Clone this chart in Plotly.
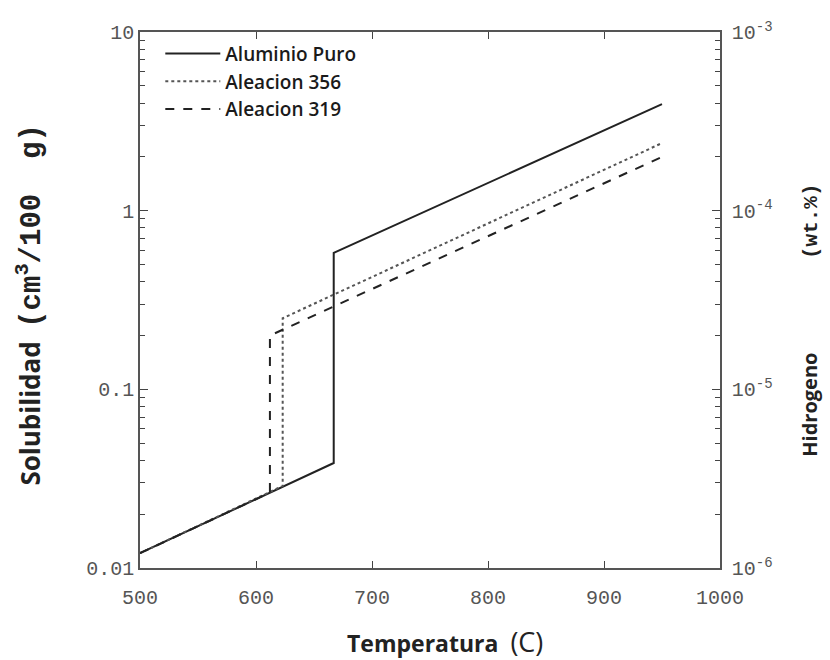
import plotly.graph_objects as go

# Data (temperature in C, solubility in cm3/100 g)
temp_puro = [500, 667, 667, 950]
sol_puro = [0.0121, 0.0387, 0.58, 3.95]

temp_356 = [500, 623, 623, 950]
sol_356 = [0.0121, 0.0288, 0.25, 2.39]

temp_319 = [500, 612, 612, 950]
sol_319 = [0.0121, 0.0264, 0.20, 2.0]

x_ticks = [500, 600, 700, 800, 900, 1000]
y2_tickvals = [1e-6, 1e-5, 1e-4, 1e-3]
y2_ticktext = ["10<sup>-6</sup>", "10<sup>-5</sup>", "10<sup>-4</sup>", "10<sup>-3</sup>"]

TICKFONT = dict(family="Liberation Mono", size=20, color="#555555")
SP = "\u00a0"

fig = go.Figure()
fig.add_trace(go.Scatter(x=temp_puro, y=sol_puro, mode="lines", name="Aluminio Puro",
                         line=dict(color="#222222", width=2, dash="solid")))
fig.add_trace(go.Scatter(x=temp_356, y=sol_356, mode="lines", name="Aleacion 356",
                         line=dict(color="#555555", width=2, dash="dot")))
fig.add_trace(go.Scatter(x=temp_319, y=sol_319, mode="lines", name="Aleacion 319",
                         line=dict(color="#222222", width=2, dash="dash")))
# invisible helper trace to anchor the right-hand hydrogen axis
fig.add_trace(go.Scatter(x=temp_puro, y=[v * 1e-4 for v in sol_puro], yaxis="y2",
                         mode="lines", line=dict(width=0, color="rgba(0,0,0,0)"),
                         showlegend=False, hoverinfo="skip"))

left_title = ("<b>Solubilidad</b>" + SP * 2 +
              "<span style='font-family:Liberation Mono;font-size:29px;font-weight:bold'>"
              "(cm<sup>3</sup>/100" + SP * 2 + "g)</span>")
right_title = ("<b>Hidrogeno</b>" + SP * 18 +
               "<span style='font-family:Liberation Mono;font-size:21px;font-weight:bold'>(wt.%)</span>")
x_title = "<b>Temperatura</b>" + SP * 2 + "<span style='font-size:27px'>(C)</span>"

fig.update_layout(
    width=830, height=660,
    margin=dict(l=140, r=110, t=32, b=92),
    paper_bgcolor="white", plot_bgcolor="white",
    showlegend=True,
    legend=dict(x=0.035, y=0.995, xanchor="left", yanchor="top",
                bgcolor="rgba(0,0,0,0)", borderwidth=0,
                font=dict(family="Open Sans", size=19, color="#1a1a1a", weight=600),
                itemwidth=55, tracegroupgap=3),
    xaxis=dict(range=[500, 1000], tickvals=x_ticks, ticks="inside", ticklen=7,
               tickcolor="#444", showline=True, linecolor="#555", linewidth=1.5,
               mirror="ticks", showgrid=False, zeroline=False, tickfont=TICKFONT,
               ticklabelstandoff=10),
    yaxis=dict(type="log", range=[-2, 1], dtick=1, ticks="inside", ticklen=8,
               tickcolor="#444", showline=True, linecolor="#555", linewidth=1.5,
               mirror=False, showgrid=False, zeroline=False, tickfont=TICKFONT,
               minor=dict(ticks="inside", ticklen=5, tickcolor="#444", dtick="D1", showgrid=False)),
    yaxis2=dict(type="log", range=[-6, -3], overlaying="y", side="right",
                tickvals=y2_tickvals, ticktext=y2_ticktext, ticks="inside", ticklen=8,
                tickcolor="#444", showline=True, linecolor="#555", linewidth=1.5,
                showgrid=False, zeroline=False, tickfont=TICKFONT, ticklabelstandoff=6,
                minor=dict(ticks="inside", ticklen=5, tickcolor="#444", dtick="D1", showgrid=False)),
    annotations=[
        dict(text=left_title, textangle=-90, xref="paper", yref="paper",
             x=-0.19, y=0.491, xanchor="center", yanchor="middle", showarrow=False,
             font=dict(family="Open Sans", size=26, color="#222")),
        dict(text=right_title, textangle=-90, xref="paper", yref="paper",
             x=1.155, y=0.463, xanchor="center", yanchor="middle", showarrow=False,
             font=dict(family="Open Sans", size=20, color="#222")),
        dict(text=x_title, xref="paper", yref="paper",
             x=0.525, y=-0.137, xanchor="center", yanchor="middle", showarrow=False,
             font=dict(family="Open Sans", size=23, color="#222")),
    ],
)

fig.write_html("out.html")
